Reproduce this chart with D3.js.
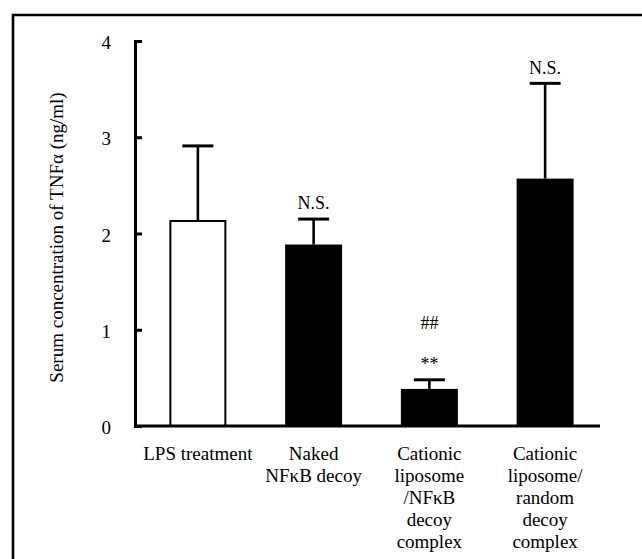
<!DOCTYPE html>
<html>
<head>
<meta charset="utf-8">
<script src="https://cdn.jsdelivr.net/npm/d3@7"></script>
<style>
  html, body { margin: 0; padding: 0; background: #fff; }
  svg { display: block; font-family: "Liberation Serif", "Times New Roman", serif; }
</style>
</head>
<body>
<div id="chart"></div>
<script>
// group labels (one string per line)
const categories = [
  ['LPS treatment'],
  ['Naked', 'NFκB decoy'],
  ['Cationic', 'liposome', '/NFκB', 'decoy', 'complex'],
  ['Cationic', 'liposome/', 'random', 'decoy', 'complex']
];
// mean serum TNFα (ng/ml) and upper error
const means = [2.13, 1.875, 0.375, 2.56];
const errors = [0.78, 0.275, 0.105, 1.0];
// significance marks drawn above each error bar (bottom to top)
const marks = [[], ['N.S.'], ['**', '##'], ['N.S.']];
const yTicks = [0, 1, 2, 3, 4];
const barFill = ['#fff', '#000', '#000', '#000'];

const W = 642, H = 559;
const plot = { left: 135, right: 600, top: 41, bottom: 426 };

const svg = d3.select('#chart').append('svg')
  .attr('width', W)
  .attr('height', H);

// outer frame (runs off the right and bottom edge)
svg.append('path')
  .attr('d', `M13,${H + 5}V15H${W + 5}`)
  .attr('fill', 'none')
  .attr('stroke', '#000')
  .attr('stroke-width', 2.6);

const idx = d3.range(categories.length);

const x = d3.scaleBand()
  .domain(idx)
  .range([plot.left + 5, plot.right + 3])
  .paddingInner(0.525)
  .paddingOuter(0.2625);

const y = d3.scaleLinear()
  .domain([0, 4])
  .range([plot.bottom, plot.top]);

// bars
svg.selectAll('rect.bar')
  .data(idx)
  .enter()
  .append('rect')
    .attr('class', 'bar')
    .attr('x', i => x(i))
    .attr('y', i => y(means[i]))
    .attr('width', x.bandwidth())
    .attr('height', i => y(0) - y(means[i]))
    .attr('fill', i => barFill[i])
    .attr('stroke', '#000')
    .attr('stroke-width', 2);

// error bars (upper only)
const capW = 31;
const eb = svg.selectAll('g.err')
  .data(idx)
  .enter()
  .append('g')
    .attr('class', 'err')
    .attr('stroke', '#000');

eb.append('line')
  .attr('x1', i => x(i) + x.bandwidth() / 2)
  .attr('x2', i => x(i) + x.bandwidth() / 2)
  .attr('y1', i => y(means[i]) - 1)
  .attr('y2', i => y(means[i] + errors[i]))
  .attr('stroke-width', 2.6);

eb.append('line')
  .attr('x1', i => x(i) + x.bandwidth() / 2 - capW / 2)
  .attr('x2', i => x(i) + x.bandwidth() / 2 + capW / 2)
  .attr('y1', i => y(means[i] + errors[i]))
  .attr('y2', i => y(means[i] + errors[i]))
  .attr('stroke-width', 3);

// significance marks
idx.forEach(i => {
  marks[i].forEach((m, k) => {
    svg.append('text')
      .attr('x', x(i) + x.bandwidth() / 2)
      .attr('y', y(means[i] + errors[i]) - 16 - k * 41)
      .attr('dy', '0.35em')
      .attr('text-anchor', 'middle')
      .attr('font-size', 18)
      .text(m);
  });
});

// y axis, ticks pointing inward
const yAxis = svg.append('g')
  .attr('transform', `translate(${plot.left},0)`)
  .call(d3.axisLeft(y).tickValues(yTicks).tickFormat(d3.format('d'))
    .tickSize(-7).tickPadding(24));
yAxis.select('.domain').attr('stroke-width', 3);
yAxis.selectAll('.tick line').attr('stroke-width', 3);
yAxis.selectAll('.tick text')
  .attr('font-size', 19)
  .attr('font-family', '"Liberation Serif", serif')
  .attr('fill', '#000')
  .attr('dy', '0.4em');

// x axis baseline
svg.append('line')
  .attr('x1', plot.left)
  .attr('x2', plot.right)
  .attr('y1', y(0))
  .attr('y2', y(0))
  .attr('stroke', '#000')
  .attr('stroke-width', 3);

// category labels
const lbl = svg.selectAll('text.cat')
  .data(idx)
  .enter()
  .append('text')
    .attr('class', 'cat')
    .attr('text-anchor', 'middle')
    .attr('font-size', 19)
    .attr('y', 460);

lbl.selectAll('tspan')
  .data(i => categories[i].map(t => ({ t, i })))
  .enter()
  .append('tspan')
    .attr('x', d => x(d.i) + x.bandwidth() / 2)
    .attr('dy', (d, k) => k === 0 ? 0 : 22)
    .text(d => d.t);

// y axis title
svg.append('text')
  .attr('transform', `translate(63,${(plot.top + plot.bottom) / 2 + 4}) rotate(-90)`)
  .attr('text-anchor', 'middle')
  .attr('font-size', 19)
  .text('Serum concentration of TNFα (ng/ml)');
</script>
</body>
</html>
